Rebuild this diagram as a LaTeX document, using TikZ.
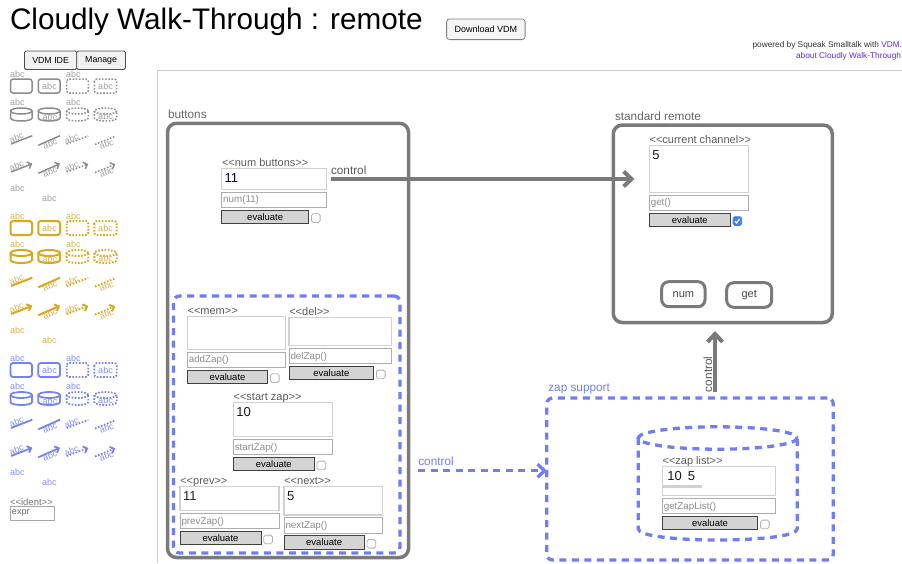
\documentclass[tikz,border=0pt]{standalone}
\usepackage{fontspec}
\setmainfont{Liberation Sans}
\usetikzlibrary{arrows.meta,calc}
\definecolor{frame}{HTML}{7A7A7A}
\definecolor{zblue}{HTML}{6F7EF2}
\definecolor{pgray}{HTML}{8C8C8C}
\definecolor{pgrayt}{HTML}{A0A0A0}
\definecolor{pgold}{HTML}{D9A81C}
\definecolor{pgoldt}{HTML}{D9B24E}
\definecolor{pblue}{HTML}{7383F5}
\definecolor{pbluet}{HTML}{8190F5}
\definecolor{lbltxt}{HTML}{5A5A5A}
\definecolor{linkc}{HTML}{5B2ED8}
\definecolor{chkblue}{HTML}{3F7FEF}
\newcommand\fsz[1]{\fontsize{#1}{#1}\selectfont}
\newcommand\openang{<\kern0pt<}
\newcommand\closeang{>\kern0pt>}
\tikzset{
  txt/.style={inner sep=0pt, outer sep=0pt, anchor=base west},
  lbl/.style={txt, font=\fsz{11}, text=lbltxt},
  valbox/.style={draw=black!18, line width=1.2pt, fill=white, inner sep=0pt, outer sep=0pt},
  exprbox/.style={draw=black!32, line width=1pt, fill=white, inner sep=0pt, outer sep=0pt},
  valtxt/.style={txt, font=\fsz{13}},
  exprtxt/.style={txt, font=\fsz{9.8}, text=black!45},
  evalbtn/.style={draw=black!75, line width=1pt, fill=black!17, inner sep=0pt, outer sep=0pt, font=\fsz{9.5}},
  chkbox/.style={draw=black!30, line width=0.8pt, fill=white, rounded corners=1.8pt, minimum size=8.7pt, inner sep=0pt, outer sep=0pt},
  chkon/.style={chkbox, draw=chkblue, fill=chkblue},
  grp/.style={draw=frame, line width=3.5pt, rounded corners=9pt, inner sep=0pt, outer sep=0pt},
  zgrp/.style={draw=zblue, line width=3.3pt, dash pattern=on 7pt off 5.5pt, rounded corners=6pt, inner sep=0pt, outer sep=0pt},
  zline/.style={draw=zblue, line width=3.3pt, dash pattern=on 7pt off 5.5pt},
  garr/.style={draw=frame, line width=4pt, -{Straight Barb[length=8pt,width=15pt]}},
  barr/.style={zline, -{Straight Barb[length=7pt,width=13pt]}},
  btn/.style={draw=black!50, fill=black!4, line width=0.8pt, rounded corners=3pt, inner sep=0pt, outer sep=0pt},
  tbtn/.style={draw=black!70, fill=black!5, line width=0.8pt, rounded corners=1.5pt, inner sep=0pt, outer sep=0pt, font=\fsz{8.8}},
  rbtn/.style={draw=frame, line width=3pt, rounded corners=7pt, inner sep=0pt, outer sep=0pt, font=\fsz{11}, text=black!72},
  grplbl/.style={txt, font=\fsz{11.8}, text=black!60}
}
% widget: name, x, valtop, width, valh, label, value, expr, check style
\newcommand\wdg[9]{%
  \pgfmathsetmacro\wEt{#3+#5+2.7}%
  \pgfmathsetmacro\wBt{\wEt+15.5+2.7}%
  \pgfmathsetmacro\wBw{#4-18}%
  \pgfmathsetmacro\wCx{#2+\wBw+2.7}%
  \node[lbl] (#1-lab) at ({#2+0.3},{#3-1.8}) {#6};
  \node[valbox, anchor=north west, minimum width=#4pt, minimum height=#5pt] (#1-val) at (#2,#3) {};
  \node[valtxt, text=\vc] (#1-num) at ({#2+3},{#3+14}) {#7};
  \node[exprbox, anchor=north west, minimum width=#4pt, minimum height=15.5pt] (#1-expr) at (#2,\wEt) {};
  \node[exprtxt] (#1-code) at ({#2+1.5},{\wEt+10.8}) {#8};
  \node[evalbtn, anchor=north west, minimum width=\wBw pt, minimum height=13.2pt] (#1-eval) at (#2,\wBt) {evaluate};
  \node[#9, anchor=north west] (#1-chk) at (\wCx,{\wBt+3.5}) {};
}
\newcommand\pcyl[5]{%
  \draw[#5] ({(#1+#2)/2},{#3+3}) ellipse [x radius={(#2-#1)/2}, y radius=3];
  \draw[#5] (#1,{#3+3}) -- (#1,{#4-3}) .. controls (#1,{#4+1}) and (#2,{#4+1}) .. (#2,{#4-3}) -- (#2,{#3+3});
}
\newcommand\drawpalette[4]{%
\begin{scope}[shift={(0,#3)}, every node/.style={inner sep=0pt, outer sep=0pt, font=\fsz{9}, text=#2},
  pl/.style={draw=#1, line width=\plw}, pd/.style={pl, dash pattern=on 1.6pt off 1.6pt},
  ptip/.style={-{Straight Barb[length=3.5pt,width=7pt]}}]
  \node[anchor=base west] (#4r1a) at (10,77) {abc};
  \draw[pl, rounded corners=2.5pt] (10.5,79) rectangle (32,93);
  \draw[pl, rounded corners=2.5pt] (38.3,79) rectangle (60,93);
  \node (#4r1b) at (49.5,86) {abc};
  \node[anchor=base west] (#4r1c) at (66,77) {abc};
  \draw[pd, rounded corners=2.5pt] (66.7,79) rectangle (88.3,93);
  \draw[pd, rounded corners=2.5pt] (94.3,79) rectangle (116.7,93);
  \node (#4r1d) at (105.5,86) {abc};
  \node[anchor=base west] (#4r2a) at (10,105.5) {abc};
  \pcyl{10.5}{32}{108}{121}{pl}
  \pcyl{38.3}{60}{108}{121}{pl}
  \node (#4r2b) at (50,117) {abc};
  \node[anchor=base west] (#4r2c) at (66,105.5) {abc};
  \pcyl{66.7}{88.3}{108}{121}{pd}
  \pcyl{94.3}{116.7}{108}{121}{pd}
  \node (#4r2d) at (105.5,116) {abc};
  \draw[pl] (11,144) -- (32.3,135.7);
  \node[rotate=21] (#4r3a) at (16.5,137.8) {abc};
  \draw[pl] (38.3,145.3) -- (60,135.7);
  \node[rotate=21] (#4r3b) at (50,143.5) {abc};
  \draw[pd] (66.7,144) -- (88.3,136);
  \node[rotate=21] (#4r3c) at (71.5,138.5) {abc};
  \draw[pd] (95,144.5) -- (115.3,136.3);
  \node[rotate=21] (#4r3d) at (106.5,144) {abc};
  \draw[pl, ptip] (11,172) -- (32.3,163.7);
  \node[rotate=21] (#4r4a) at (16.5,165.8) {abc};
  \draw[pl, ptip] (38.3,173.3) -- (60,163.7);
  \node[rotate=21] (#4r4b) at (50,171.5) {abc};
  \draw[pd, ptip] (66.7,172) -- (88.3,164);
  \node[rotate=21] (#4r4c) at (71.5,166.5) {abc};
  \draw[pd, ptip] (95,172.5) -- (115.3,164.3);
  \node[rotate=21] (#4r4d) at (106.5,172) {abc};
  \node[anchor=base west] (#4r5a) at (10,191) {abc};
  \node[anchor=base west] (#4r5b) at (42,201) {abc};
\end{scope}}
\begin{document}
\begin{tikzpicture}[x=1pt,y=-1pt]
\useasboundingbox (0,0) rectangle (902,563);
% header
\node[txt, font=\fsz{29.7}] (title) at (10,29.3) {Cloudly Walk-Through : remote};
\node[btn, anchor=north west, minimum width=78.5pt, minimum height=20.7pt, font=\fsz{9}] (dl) at (446.6,18.9) {Download VDM};
\node[txt, anchor=base east, font=\fsz{8.3}] (pow) at (902,47) {\textcolor{black!80}{powered by Squeak Smalltalk with }\textcolor{linkc}{VDM.}};
\node[txt, anchor=base east, font=\fsz{8.3}, text=linkc] (about) at (901,58) {about Cloudly Walk-Through};
\node[tbtn, anchor=north west, minimum width=52.2pt, minimum height=18.5pt] (ide) at (24.5,51) {VDM IDE};
\node[tbtn, anchor=north west, minimum width=48.8pt, minimum height=18.5pt] (mng) at (76.7,51) {Manage};
\draw[draw=black!20, line width=1.5pt] (157.5,563) -- (157.5,70.5) -- (902,70.5);
% palettes
\def\plw{1.5pt}\drawpalette{pgray}{pgrayt}{0}{g}
\def\plw{2pt}\drawpalette{pgold}{pgoldt}{142}{y}
\def\plw{1.8pt}\drawpalette{pblue}{pbluet}{284}{b}
\node[txt, font=\fsz{9.5}, text=black!55] (identl) at (10,505.5) {\openang ident\closeang};
\node[draw=black!35, line width=1pt, anchor=north west, minimum width=44pt, minimum height=14pt, inner sep=0pt] (identb) at (10,506) {};
\node[txt, font=\fsz{9}, text=black!60] (identt) at (12,514.5) {expr};
% groups
\node[grplbl] (btnlbl) at (168,118) {buttons};
\node[grp, anchor=north west, minimum width=241pt, minimum height=434.2pt] (buttons) at (167.5,123.3) {};
\node[zgrp, anchor=north west, minimum width=226.5pt, minimum height=257pt] (zapsub) at (173.5,296) {};
\node[grplbl] (srlbl) at (615,120) {standard remote};
\node[grp, anchor=north west, minimum width=219pt, minimum height=197.5pt] (remote) at (613.3,125) {};
\node[grplbl, text=zblue] (zslbl) at (548.3,391.5) {zap support};
\node[zgrp, anchor=north west, minimum width=286.6pt, minimum height=162pt] (zapsup) at (546.7,398) {};
\draw[zline] (717.7,438) ellipse [x radius=79.5, y radius=11.2];
\draw[zline] (638.2,438) -- (638.2,528.8) .. controls (638.2,543.7) and (797.2,543.7) .. (797.2,528.8) -- (797.2,438);
% widgets
\def\vc{black!80!blue}
\wdg{nb}{221.7}{168.3}{105}{21}{\openang num buttons\closeang}{11}{num(11)}{chkbox}
\def\vc{black!90}
\wdg{cc}{649.3}{145.7}{99}{46.6}{\openang current channel\closeang}{5}{get()}{chkon}
\draw[white, line width=1.2pt] ($(cc-chk.center)+(-2.4,0.2)$) -- ($(cc-chk.center)+(-0.8,1.9)$) -- ($(cc-chk.center)+(2.4,-2.2)$);
\wdg{mem}{187.3}{316.7}{98.4}{32.6}{\openang mem\closeang}{}{addZap()}{chkbox}
\wdg{del}{289}{317.3}{102.7}{28.4}{\openang del\closeang}{}{delZap()}{chkbox}
\wdg{sz}{233.3}{402.3}{99}{34.4}{\openang start zap\closeang}{10}{startZap()}{chkbox}
\def\vc{black!75!brown}
\wdg{prev}{180}{486.7}{99}{24}{\openang prev\closeang}{11}{prevZap()}{chkbox}
\def\vc{black!90}
\wdg{next}{284}{486.7}{98.3}{28.3}{\openang next\closeang}{5}{nextZap()}{chkbox}
\wdg{zl}{662.3}{466.7}{113.4}{29}{\openang zap list\closeang}{\kern2pt 10\kern6pt 5}{getZapList()}{chkbox}
\draw[black!18, line width=2.5pt] (663,486.5) -- (702,486.5);
% remote buttons
\node[rbtn, anchor=north west, minimum width=43.3pt, minimum height=25pt] (numbtn) at (661.7,281.7) {num};
\node[rbtn, anchor=north west, minimum width=45pt, minimum height=24.6pt] (getbtn) at (726.7,282.7) {get};
% connectors
\coordinate (c1a) at (331,179);
\coordinate (c1b) at (634.5,179);
\draw[garr] (c1a) -- (c1b);
\node[grplbl, text=black!65] (c1l) at (331,174) {control};
\coordinate (c2a) at (715,392);
\coordinate (c2b) at (715,331);
\draw[garr] (c2a) -- (c2b);
\node[grplbl, text=black!65, rotate=90] (c2l) at (712,392) {control};
\coordinate (c3a) at (418,470.7);
\coordinate (c3b) at (547,470.7);
\draw[barr] (c3a) -- (c3b);
\node[grplbl, text=zblue] (c3l) at (418.3,465.5) {control};
\end{tikzpicture}
\end{document}
